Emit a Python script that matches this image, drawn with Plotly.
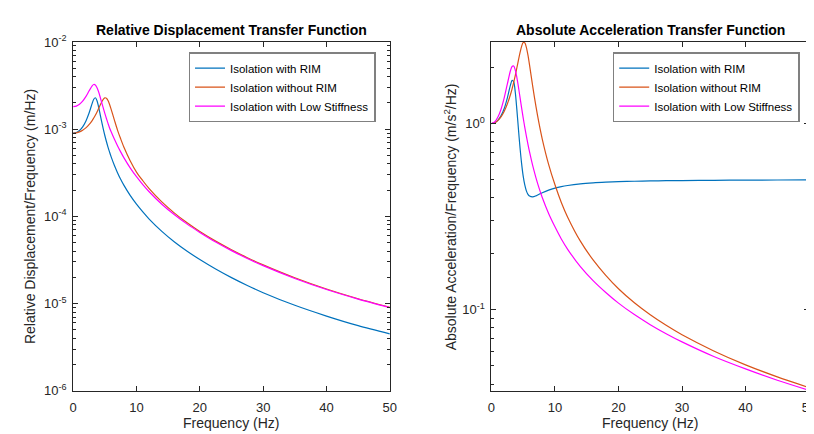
import math
import plotly.graph_objects as go

# ---------------- data ----------------
freq_hz = [0, 0.5, 1, 1.5, 2, 2.5, 3, 3.25, 3.5, 3.75, 4, 4.25, 4.5, 4.75, 5,
           5.25, 5.5, 5.75, 6, 6.5, 7, 7.5, 8, 9, 10, 11, 12, 14, 16, 18, 20,
           22.5, 25, 27.5, 30, 35, 40, 45, 50]

# Relative displacement transfer function (m/Hz)
disp_with_rim = [9.00e-4, 9.16e-4, 9.67e-4, 1.065e-3, 1.235e-3, 1.522e-3, 1.974e-3,
                 2.205e-3, 2.294e-3, 2.138e-3, 1.820e-3, 1.492e-3, 1.219e-3, 1.008e-3,
                 8.46e-4, 7.22e-4, 6.23e-4, 5.45e-4, 4.81e-4, 3.85e-4, 3.17e-4, 2.66e-4,
                 2.28e-4, 1.741e-4, 1.38e-4, 1.124e-4, 9.31e-5, 6.73e-5, 5.08e-5, 3.98e-5,
                 3.20e-5, 2.49e-5, 1.984e-5, 1.613e-5, 1.333e-5, 9.55e-6, 7.19e-6, 5.58e-6,
                 4.50e-6]
disp_without_rim = [9.00e-4, 9.07e-4, 9.30e-4, 9.71e-4, 1.034e-3, 1.125e-3, 1.256e-3,
                    1.342e-3, 1.445e-3, 1.567e-3, 1.712e-3, 1.875e-3, 2.047e-3, 2.200e-3,
                    2.290e-3, 2.269e-3, 2.132e-3, 1.921e-3, 1.688e-3, 1.279e-3, 9.76e-4,
                    7.75e-4, 6.25e-4, 4.35e-4, 3.22e-4, 2.562e-4, 2.083e-4, 1.464e-4,
                    1.090e-4, 8.43e-5, 6.70e-5, 5.20e-5, 4.14e-5, 3.36e-5, 2.78e-5,
                    1.976e-5, 1.469e-5, 1.136e-5, 9.08e-6]
disp_low_stiffness = [1.810e-3, 1.839e-3, 1.929e-3, 2.095e-3, 2.358e-3, 2.735e-3, 3.144e-3,
                      3.255e-3, 3.216e-3, 3.013e-3, 2.700e-3, 2.356e-3, 2.032e-3, 1.752e-3,
                      1.518e-3, 1.325e-3, 1.165e-3, 1.032e-3, 9.33e-4, 7.69e-4, 6.45e-4,
                      5.49e-4, 4.72e-4, 3.60e-4, 2.85e-4, 2.314e-4, 1.917e-4, 1.378e-4,
                      1.043e-4, 8.15e-5, 6.55e-5, 5.08e-5, 4.05e-5, 3.29e-5, 2.72e-5,
                      1.94e-5, 1.45e-5, 1.126e-5, 9.0e-6]

# Absolute acceleration transfer function (m/s^2/Hz)
accel_with_rim = [1.000, 1.010, 1.041, 1.100, 1.201, 1.370, 1.612, 1.706, 1.676, 1.476,
                  1.191, 0.934, 0.741, 0.609, 0.522, 0.468, 0.435, 0.417, 0.408, 0.404,
                  0.409, 0.417, 0.425, 0.439, 0.450, 0.4585, 0.465, 0.4744, 0.4804,
                  0.4845, 0.4875, 0.4901, 0.4920, 0.4934, 0.4945, 0.4959, 0.4969,
                  0.4976, 0.4980]
accel_without_rim = [1.000, 1.009, 1.037, 1.086, 1.161, 1.272, 1.431, 1.535, 1.661, 1.810,
                     1.987, 2.188, 2.402, 2.597, 2.719, 2.712, 2.564, 2.327, 2.059, 1.583,
                     1.239, 0.998, 0.826, 0.604, 0.469, 0.3773, 0.3145, 0.2337, 0.1854,
                     0.1532, 0.1298, 0.1091, 0.0941, 0.0826, 0.0735, 0.0602, 0.0507,
                     0.0437, 0.0383]
accel_low_stiffness = [1.000, 1.019, 1.080, 1.190, 1.368, 1.627, 1.926, 2.025, 2.035, 1.939,
                       1.769, 1.572, 1.381, 1.214, 1.073, 0.954, 0.856, 0.774, 0.704, 0.594,
                       0.513, 0.450, 0.401, 0.329, 0.279, 0.2402, 0.2114, 0.1706, 0.1436,
                       0.1240, 0.1087, 0.0943, 0.0833, 0.0745, 0.0673, 0.0562, 0.0482,
                       0.0419, 0.0370]

series_names = ["Isolation with RIM", "Isolation without RIM", "Isolation with Low Stiffness"]

x_tick_values = [0, 10, 20, 30, 40, 50]
x_tick_labels = ["0", "10", "20", "30", "40", "50"]
left_y_tick_values = [1e-6, 1e-5, 1e-4, 1e-3, 1e-2]
left_y_tick_labels = ["10<sup>-6</sup>", "10<sup>-5</sup>", "10<sup>-4</sup>",
                      "10<sup>-3</sup>", "10<sup>-2</sup>"]
right_y_tick_values = [0.1, 1.0]
right_y_tick_labels = ["10<sup>-1</sup>", "10<sup>0</sup>"]

left_title = "Relative Displacement Transfer Function"
right_title = "Absolute Acceleration Transfer Function"
x_label = "Frequency (Hz)"
left_y_label = "Relative Displacement/Frequency (m/Hz)"
right_y_label = "Absolute Acceleration/Frequency (m/s<sup>2</sup>/Hz)"

# ---------------- styling ----------------
W, H = 814, 434
colors = ["#0072BD", "#D95319", "#FF00FF"]
FONT = "Liberation Sans, Arial, Helvetica, sans-serif"
AX = "#262626"


def fx(p):
    return p / W


def fy(p):
    return 1 - p / H


L_X0, L_X1 = 62, 383
R_X0, R_X1 = 486, 808
Y_TOP, Y_BOT = 26, 389

left_minor = [m * 10.0 ** e for e in range(-6, -2) for m in range(2, 10)]
right_minor = [m * 10.0 ** e for e in (-2, -1, 0) for m in range(2, 10)]

fig = go.Figure()
for name, col, ys in zip(series_names, colors,
                         [disp_with_rim, disp_without_rim, disp_low_stiffness]):
    fig.add_trace(go.Scatter(x=freq_hz, y=ys, name=name, mode="lines",
                             line=dict(color=col, width=1.2, shape="spline", smoothing=0.8),
                             xaxis="x", yaxis="y", legend="legend"))
for name, col, ys in zip(series_names, colors,
                         [accel_with_rim, accel_without_rim, accel_low_stiffness]):
    fig.add_trace(go.Scatter(x=freq_hz, y=ys, name=name, mode="lines",
                             line=dict(color=col, width=1.2, shape="spline", smoothing=0.8),
                             xaxis="x2", yaxis="y2", legend="legend2"))

common = dict(showline=True, linecolor=AX, linewidth=1, mirror="ticks",
              ticks="inside", ticklen=5, tickcolor=AX, tickwidth=1,
              showgrid=False, zeroline=False,
              tickfont=dict(family=FONT, size=13, color=AX))

xcommon = dict(common, range=[0, 50], tickmode="array", tickvals=x_tick_values,
               ticktext=x_tick_labels, ticklabelstandoff=5)

fig.update_layout(
    width=W, height=H,
    margin=dict(l=0, r=0, t=0, b=0),
    paper_bgcolor="white", plot_bgcolor="white",
    xaxis=dict(xcommon, domain=[fx(L_X0), fx(L_X1)], anchor="y"),
    xaxis2=dict(xcommon, domain=[fx(R_X0), fx(R_X1)], anchor="y2"),
    yaxis=dict(common, type="log", domain=[fy(Y_BOT), fy(Y_TOP)], anchor="x",
               range=[-6, -2], tickmode="array", tickvals=left_y_tick_values,
               ticktext=left_y_tick_labels, ticklabelstandoff=3,
               minor=dict(tickmode="array", tickvals=left_minor, ticks="inside",
                          ticklen=3, tickcolor=AX, showgrid=False)),
    yaxis2=dict(common, type="log", domain=[fy(Y_BOT), fy(Y_TOP)], anchor="x2",
                range=[math.log10(0.0368), math.log10(2.74)], tickmode="array",
                tickvals=right_y_tick_values, ticktext=right_y_tick_labels,
                ticklabelstandoff=3,
                minor=dict(tickmode="array", tickvals=right_minor, ticks="inside",
                           ticklen=3, tickcolor=AX, showgrid=False)),
    legend=dict(x=fx(368.5), y=fy(36.5), xanchor="right", yanchor="top",
                bgcolor="white", bordercolor="#808080", borderwidth=1.5,
                font=dict(family=FONT, size=11.5, color="black")),
    legend2=dict(x=fx(798.5), y=fy(36.5), xanchor="right", yanchor="top",
                 bgcolor="white", bordercolor="#808080", borderwidth=1.5,
                 font=dict(family=FONT, size=11.5, color="black")),
)

ann = []
for cx, t in [((L_X0 + L_X1) / 2, left_title), ((R_X0 + R_X1) / 2, right_title)]:
    ann.append(dict(x=fx(cx), y=fy(14), xref="paper", yref="paper", text="<b>" + t + "</b>",
                    showarrow=False, xanchor="center", yanchor="middle",
                    font=dict(family=FONT, size=14, color="black")))
    ann.append(dict(x=fx(cx), y=fy(423), xref="paper", yref="paper", text=x_label,
                    showarrow=False, xanchor="center", yanchor="middle",
                    font=dict(family=FONT, size=14, color=AX)))
for cx, t in [(19, left_y_label), (444, right_y_label)]:
    ann.append(dict(x=fx(cx), y=fy((Y_TOP + Y_BOT) / 2), xref="paper", yref="paper",
                    text=t, textangle=-90, showarrow=False, xanchor="center",
                    yanchor="middle", font=dict(family=FONT, size=14, color=AX)))
fig.update_layout(annotations=ann)

fig.write_html("out.html")
